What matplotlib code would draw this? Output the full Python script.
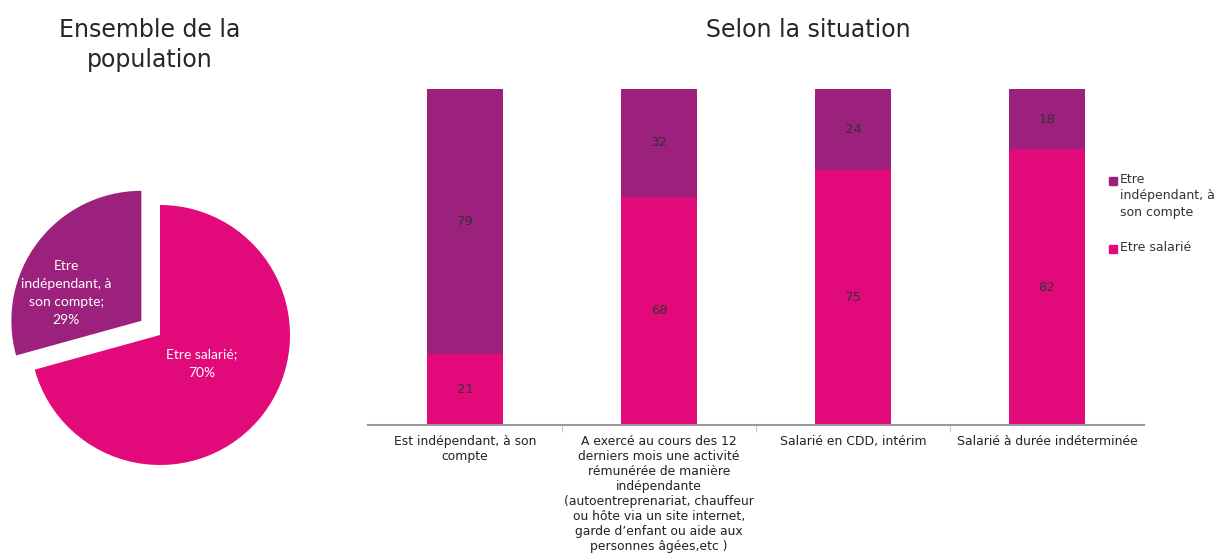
import matplotlib.pyplot as plt
from matplotlib.patches import Rectangle

purple = '#9B217D'
pink = '#E20A7B'

# pie data
pie_labels = ['Etre salarié', 'Etre indépendant, à son compte']
pie_values = [70, 29]

# bar data
categories = [
    'Est indépendant, à son\ncompte',
    'A exercé au cours des 12\nderniers mois une activité\nrémunérée de manière\nindépendante\n(autoentreprenariat, chauffeur\nou hôte via un site internet,\ngarde d\u2019enfant ou aide aux\npersonnes âgées,etc )',
    'Salarié en CDD, intérim',
    'Salarié à durée indéterminée',
]
salarie = [21, 68, 75, 82]
independant = [79, 32, 24, 18]

fig = plt.figure(figsize=(12.26, 5.57), dpi=100)
W, H = 1226, 557

# ---- pie ----
cx, cy, r = 160, 335, 130
side = 2.5 * r
axp = fig.add_axes([(cx - side / 2) / W, (H - cy - side / 2) / H, side / W, side / H])
axp.pie(pie_values, colors=[pink, purple], startangle=90, counterclock=False,
        explode=[0, 0.18], radius=1)
axp.set_xlim(-1.25, 1.25)
axp.set_ylim(-1.25, 1.25)
axp.text(0.32, -0.22, 'Etre salarié;\n70%', color='white', ha='center', va='center',
         fontsize=10, family='Lato', linespacing=1.6)
axp.text(-0.72, 0.32, 'Etre\nindépendant, à\nson compte;\n29%', color='white',
         ha='center', va='center', fontsize=10, family='Lato', linespacing=1.6)
fig.text(150 / W, 1 - 45 / H, 'Ensemble de la\npopulation', ha='center', va='center',
         fontsize=17, color='#262626', linespacing=1.3)

# ---- stacked bars (100 %) ----
totals = [a + b for a, b in zip(salarie, independant)]
sal_pct = [100 * a / t for a, t in zip(salarie, totals)]
ind_pct = [100 * b / t for b, t in zip(independant, totals)]

ax = fig.add_axes([368 / W, 1 - 425 / H, (1144 - 368) / W, (425 - 89) / H])
x = range(len(categories))
ax.bar(x, sal_pct, width=0.39, color=pink)
ax.bar(x, ind_pct, width=0.39, bottom=sal_pct, color=purple)
for i in x:
    ax.text(i, sal_pct[i] / 2, str(salarie[i]), ha='center', va='center',
            fontsize=9.5, color='#333333')
    ax.text(i, sal_pct[i] + ind_pct[i] / 2, str(independant[i]), ha='center',
            va='center', fontsize=9.5, color='#333333')

ax.set_xlim(-0.5, 3.5)
ax.set_ylim(0, 100)
ax.set_xticks(list(x))
ax.set_xticklabels(categories, fontsize=8.9, color='#222222', linespacing=1.2)
ax.set_xticks([0.5, 1.5, 2.5], minor=True)
ax.tick_params(axis='x', which='major', length=0, pad=7)
ax.tick_params(axis='x', which='minor', length=5, color='#bbbbbb')
ax.set_yticks([])
for s in ['top', 'right', 'left']:
    ax.spines[s].set_visible(False)
ax.spines['bottom'].set_color('#999999')
ax.spines['bottom'].set_linewidth(1.5)

fig.text(808 / W, 1 - 30 / H, 'Selon la situation', ha='center', va='center',
         fontsize=17, color='#262626')

# legend, marker aligned with first text line
leg_items = [(purple, 'Etre\nindépendant, à\nson compte', 181),
             (pink, 'Etre salarié', 249)]
for col, txt, yy in leg_items:
    fig.patches.append(Rectangle((1109 / W, 1 - (yy + 4) / H), 8 / W, 8 / H,
                                 transform=fig.transFigure, color=col))
    fig.text(1120 / W, 1 - (yy - 8) / H, txt, ha='left', va='top', fontsize=9,
             color='#333333', linespacing=1.35)

plt.savefig('out.png', dpi=100)
